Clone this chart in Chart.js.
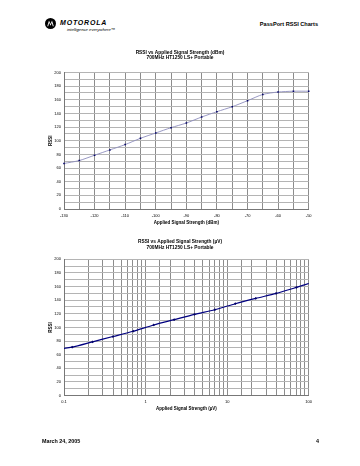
<!DOCTYPE html>
<html>
<head>
<meta charset="utf-8">
<script src="https://cdn.jsdelivr.net/npm/chart.js@4/dist/chart.umd.min.js"></script>
<style>
  html, body { margin: 0; padding: 0; background: #fff; }
  #page { position: relative; width: 360px; height: 466px; overflow: hidden; font-family: "Liberation Sans", Arial, sans-serif; color: #000; }
  .abs { position: absolute; white-space: nowrap; }
  #brand { left: 60px; top: 19px; font-size: 7px; font-weight: bold; font-style: italic; letter-spacing: 0.8px; line-height: 8px; }
  #tag { left: 67px; top: 27px; font-size: 4.2px; font-style: italic; line-height: 5px; }
  #hdr { right: 42px; top: 21px; font-size: 5.6px; font-weight: bold; line-height: 7px; }
  #date { left: 42px; top: 438px; font-size: 5.4px; font-weight: bold; line-height: 7px; }
  #pnum { left: 316px; top: 438px; font-size: 5.4px; font-weight: bold; line-height: 7px; }
  .wrap { position: absolute; left: 0; width: 360px; height: 195px; }
  #logo { left: 45px; top: 18px; width: 11px; height: 11px; }
</style>
</head>
<body>
<div id="page">
  <svg id="logo" class="abs" viewBox="0 0 22 22">
    <circle cx="11" cy="11" r="11" fill="#000"/>
    <path d="M4.5 16.5 L8 5 L11 12 L14 5 L17.5 16.5 L15.6 16.5 L13.6 9.5 L11 15.5 L8.4 9.5 L6.4 16.5 Z" fill="#fff"/>
  </svg>
  <div id="brand" class="abs">MOTOROLA</div>
  <div id="tag" class="abs">intelligence everywhere&trade;</div>
  <div id="hdr" class="abs">PassPort RSSI Charts</div>
  <div class="wrap" style="top:40px"><canvas id="c1" width="360" height="195"></canvas></div>
  <div class="wrap" style="top:230px"><canvas id="c2" width="360" height="195"></canvas></div>
  <div id="date" class="abs">March 24, 2005</div>
  <div id="pnum" class="abs">4</div>
</div>
<script>
// ---- data ----
const dbmLevels = [-130, -125, -120, -115, -110, -105, -100, -95, -90, -85, -80, -75, -70, -65, -60, -55, -50];
const microvoltLevels = [0.0707, 0.126, 0.224, 0.398, 0.707, 1.26, 2.24, 3.98, 7.07, 12.6, 22.4, 39.8, 70.7, 126, 224, 398, 707];
const rssiValues = [66.7, 71, 78.8, 86.6, 94.4, 103.6, 111.4, 119.2, 126, 134.8, 142.6, 149.9, 158.7, 167.9, 171.4, 172.6, 172.6];
const dbmTickLabels = [-130, -120, -110, -100, -90, -80, -70, -60, -50];
const uvTickLabels = [0.1, 1, 10, 100];
const rssiTickLabels = [0, 20, 40, 60, 80, 100, 120, 140, 160, 180, 200];
const chart1Title = ['RSSI vs Applied Signal Strength (dBm)', '700MHz HT1250 LS+ Portable'];
const chart2Title = ['RSSI vs Applied Signal Strength (\u00B5V)', '700MHz HT1250 LS+ Portable'];
const xTitle1 = 'Applied Signal Strength (dBm)';
const xTitle2 = 'Applied Signal Strength (\u00B5V)';
const yTitle = 'RSSI';

Chart.defaults.font.family = '"Liberation Sans", Arial, sans-serif';
Chart.defaults.color = '#000';

const vGrid = '#8c8c8c';
const hGrid = '#b4b4b4';

function yScale() {
  return {
    type: 'linear', min: 0, max: 200,
    afterFit: s => { s.width = 64; },
    border: { color: '#777', width: 1 },
    grid: { color: hGrid, lineWidth: 1, drawTicks: false },
    ticks: {
      stepSize: 10, autoSkip: false, padding: 3, font: { size: 4 },
      callback: v => rssiTickLabels.includes(v) ? String(v) : ''
    },
    title: { display: true, text: yTitle, font: { size: 4.5, weight: 'bold' }, padding: { top: 48.3, bottom: 0 } }
  };
}

// empty right-hand spacer axis so the plot ends where the reference does
function spacerScale() {
  return {
    type: 'linear', position: 'right', display: true,
    afterFit: s => { s.width = 51.3; },
    grid: { display: false, drawTicks: false }, border: { display: false },
    ticks: { display: false }, title: { display: false }
  };
}

function titleOpts(text, pt, pb) {
  return { display: true, text: text, font: { size: 4.8, weight: 'bold', lineHeight: 1.2 }, color: '#000', padding: { top: pt, bottom: pb } };
}

new Chart(document.getElementById('c1'), {
  type: 'line',
  data: {
    datasets: [{
      data: dbmLevels.map((x, i) => ({ x: x, y: rssiValues[i] })),
      borderColor: '#8d8dbd', borderWidth: 0.9, tension: 0.25,
      pointStyle: 'rect', pointRadius: 1.1, pointBackgroundColor: '#000066', pointBorderColor: '#000066', pointBorderWidth: 0,
      clip: 4, yAxisID: 'y'
    }]
  },
  options: {
    responsive: false, animation: false, devicePixelRatio: 1,
    layout: { padding: 0 },
    plugins: { legend: { display: false }, tooltip: { enabled: false }, title: titleOpts(chart1Title, 9.4, 11.6) },
    scales: {
      x: {
        type: 'linear', min: -130, max: -50,
        afterFit: s => { s.height = 26; },
        border: { color: '#777', width: 1 },
        grid: { color: vGrid, lineWidth: 1, drawTicks: false },
        ticks: { stepSize: 5, autoSkip: false, maxRotation: 0, padding: 4, font: { size: 4 },
          callback: v => dbmTickLabels.includes(v) ? String(v) : '' },
        title: { display: true, text: xTitle1, font: { size: 4.5, weight: 'bold' }, padding: { top: 0, bottom: 10 } }
      },
      y: yScale(),
      spacer: spacerScale()
    }
  }
});

new Chart(document.getElementById('c2'), {
  type: 'line',
  data: {
    datasets: [{
      data: microvoltLevels.map((x, i) => ({ x: x, y: rssiValues[i] })),
      borderColor: '#000080', borderWidth: 1.2, tension: 0.25,
      pointStyle: 'rectRot', pointRadius: 1.4, pointBackgroundColor: '#000066', pointBorderColor: '#000066', pointBorderWidth: 0,
      yAxisID: 'y'
    }]
  },
  options: {
    responsive: false, animation: false, devicePixelRatio: 1,
    layout: { padding: 0 },
    plugins: { legend: { display: false }, tooltip: { enabled: false }, title: titleOpts(chart2Title, 8.6, 9.2) },
    scales: {
      x: {
        type: 'logarithmic', min: 0.1, max: 100,
        afterFit: s => { s.height = 29.5; },
        border: { color: '#777', width: 1 },
        grid: { color: vGrid, lineWidth: 1, drawTicks: false },
        ticks: { autoSkip: false, maxRotation: 0, padding: 4, font: { size: 4 },
          callback: v => { const t = uvTickLabels.find(u => Math.abs(u - v) / u < 1e-6); return t === undefined ? '' : String(t); } },
        title: { display: true, text: xTitle2, font: { size: 4.5, weight: 'bold' }, padding: { top: 0, bottom: 14 } }
      },
      y: yScale(),
      spacer: spacerScale()
    }
  }
});
</script>
</body>
</html>
